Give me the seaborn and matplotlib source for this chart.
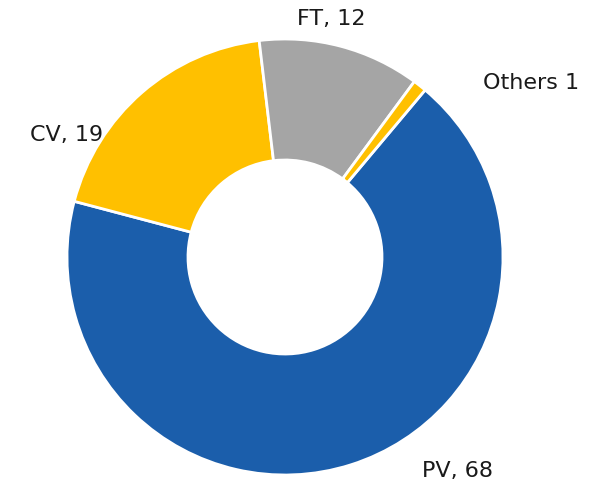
import numpy as np
import seaborn as sns
import matplotlib.pyplot as plt

# ======== data =========
categories = ['PV', 'CV', 'FT', 'Others']
values = [68, 19, 12, 1]
label_texts = ['PV, 68', 'CV, 19', 'FT, 12', 'Others 1']

# ======== style =========
sns.set_theme(style='white')
plt.rcParams['font.family'] = ['DejaVu Sans']
colors = ['#1B5EAB', '#FFC000', '#A5A5A5', '#FFC000']

# label spots (data units, radius = 1)
label_pos = [(0.79, -0.98), (-1.0, 0.56), (0.21, 1.09), (1.13, 0.80)]

fig = plt.figure(figsize=(6.08, 4.86), dpi=100)
ax = fig.add_axes([0, 0, 1, 1])

ax.pie(values, colors=colors, startangle=50, counterclock=False,
       wedgeprops=dict(width=0.555, edgecolor='white', linewidth=2))

for txt, (x, y) in zip(label_texts, label_pos):
    ax.text(x, y, txt, ha='center', va='center', fontsize=16, color='#1a1a1a')

ax.set_aspect('auto')
ax.set_xlim(-285 / 218, (608 - 285) / 218)
ax.set_ylim(-(486 - 257) / 218, 257 / 218)
ax.axis('off')

fig.savefig('out.png', dpi=100)
